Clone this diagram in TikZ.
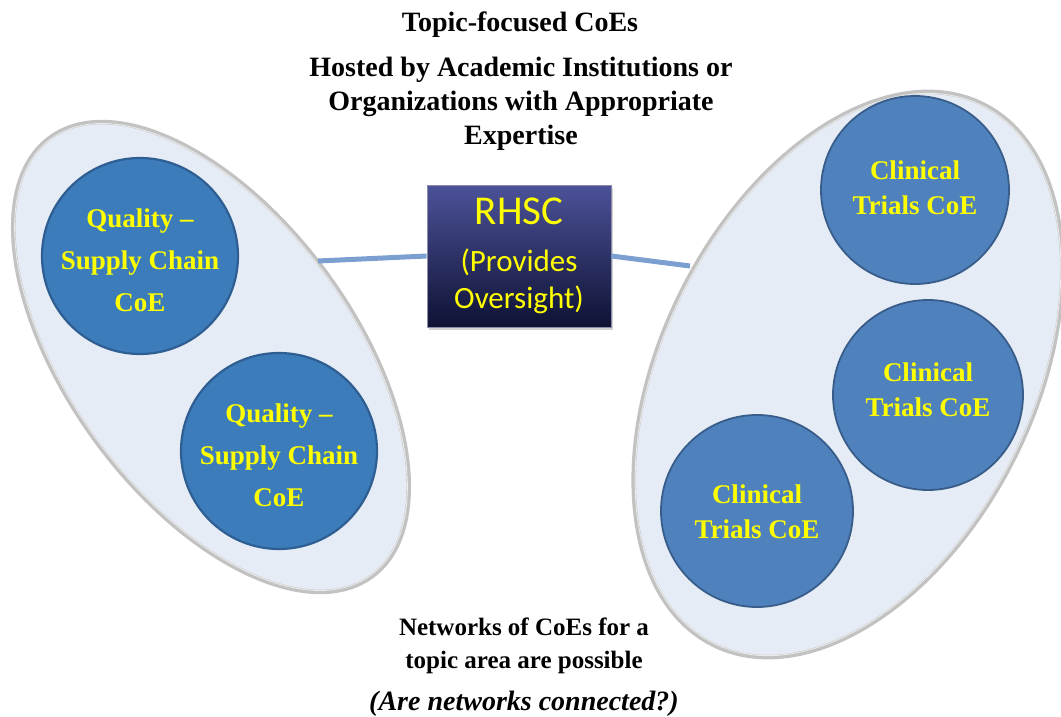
\documentclass[tikz,border=0pt]{standalone}
\usepackage{fontspec}
\setmainfont{Liberation Serif}
\newfontfamily\boxfont{Carlito}
\usetikzlibrary{shadows}

\definecolor{ringfill}{HTML}{E6ECF5}
\definecolor{ringedge}{HTML}{C2C2C2}
\definecolor{ringgap}{HTML}{EAEAEA}
\definecolor{qualfill}{HTML}{3C7CBB}
\definecolor{qualedge}{HTML}{2E5E92}
\definecolor{trialfill}{HTML}{4F81BD}
\definecolor{trialedge}{HTML}{385D8A}
\definecolor{linkblue}{HTML}{7C9FD2}
\definecolor{boxtop}{HTML}{4C5299}
\definecolor{boxbot}{HTML}{0E1234}
\definecolor{boxedge}{HTML}{8C8CA8}
\definecolor{txtyellow}{HTML}{FFFF00}

\begin{document}
\begin{tikzpicture}[x=1pt,y=-1pt,
  ringline/.style={draw=ringedge, line width=4.5pt},
  ringinner/.style={draw=ringgap, line width=0.9pt},
  link/.style={draw=linkblue, line width=5pt},
  qualcoe/.style={circle, minimum size=196pt, inner sep=0pt,
    fill=qualfill, draw=qualedge, line width=2.2pt},
  trialcoe/.style={circle, minimum size=#1, inner sep=0pt,
    fill=trialfill, draw=trialedge, line width=1.8pt},
  qualtext/.style={align=center, text=txtyellow, inner sep=0pt,
    font=\fontsize{27}{42}\selectfont\bfseries},
  trialtext/.style={align=center, text=txtyellow, inner sep=0pt,
    font=\fontsize{27}{34.5}\selectfont\bfseries},
  oversight/.style={rectangle, minimum width=184pt, minimum height=142pt,
    inner sep=0pt, align=center, top color=boxtop, bottom color=boxbot,
    draw=boxedge, line width=0.8pt, text=txtyellow,
    font=\boxfont\fontsize{31}{37}\selectfont,
    drop shadow={shadow xshift=2pt, shadow yshift=-2.5pt, opacity=0.35}},
  heading/.style={align=center, font=\fontsize{28}{34}\selectfont\bfseries},
  footnote/.style={align=center, font=\fontsize{25}{33}\selectfont\bfseries}
]
\useasboundingbox (0,0) rectangle (1061,717);
\fill[white] (0,0) rectangle (1061,717);

% rim points where the links meet the two network ellipses
\coordinate (lefthook) at (318,261);
\coordinate (righthook) at (690,266);

% left network ellipse
\begin{scope}[rotate around={-53.7:(211,357)}]
  \fill[ringfill] (211,357) ellipse [x radius=272, y radius=142.5];
  \draw[ringline] (211,357) ellipse [x radius=272, y radius=142.5];
  \draw[ringinner] (211,357) ellipse [x radius=270.5, y radius=141];
\end{scope}

% right network ellipse
\begin{scope}[rotate around={63.4:(848,374.5)}]
  \fill[ringfill] (848,374.5) ellipse [x radius=302, y radius=186];
  \draw[ringline] (848,374.5) ellipse [x radius=302, y radius=186];
  \draw[ringinner] (848,374.5) ellipse [x radius=300.5, y radius=184.5];
\end{scope}

% the RHSC oversight box
\node[oversight] (rhsc) at (519,256)
  {{\fontsize{41}{46}\selectfont RHSC}\\[10pt]
   (Provides\\Oversight)};

% links from the box to the two networks
\draw[link] (lefthook) -- (rhsc.west);
\draw[link] (rhsc.east) -- (righthook);

% quality / supply chain centres
\node[qualcoe] (q1) at (140,256) {};
\node[qualcoe] (q2) at (279,451) {};
\node[qualtext, yshift=-4pt] (q1label) at (q1.center) {Quality --\\Supply Chain\\CoE};
\node[qualtext, yshift=-4pt] (q2label) at (q2.center) {Quality --\\Supply Chain\\CoE};

% clinical trials centres
\node[trialcoe=188pt] (c1) at (915,190) {};
\node[trialcoe=190pt] (c2) at (928,395) {};
\node[trialcoe=192pt] (c3) at (757,511) {};
\node[trialtext, yshift=2pt] (c1label) at (c1.center) {Clinical\\Trials CoE};
\node[trialtext, yshift=5pt] (c2label) at (c2.center) {Clinical\\Trials CoE};
\node[trialtext, yshift=-1pt] (c3label) at (c3.center) {Clinical\\Trials CoE};

% headings
\node[heading] (title) at (520,25) {Topic-focused CoEs};
\node[heading] (hosts) at (521,104)
  {Hosted by Academic Institutions or\\Organizations with Appropriate\\Expertise};

\node[footnote] (note) at (524,667)
  {Networks of CoEs for a\\topic area are possible\\[9pt]
   \fontsize{28}{34}\selectfont\itshape (Are networks connected?)};
\end{tikzpicture}
\end{document}
